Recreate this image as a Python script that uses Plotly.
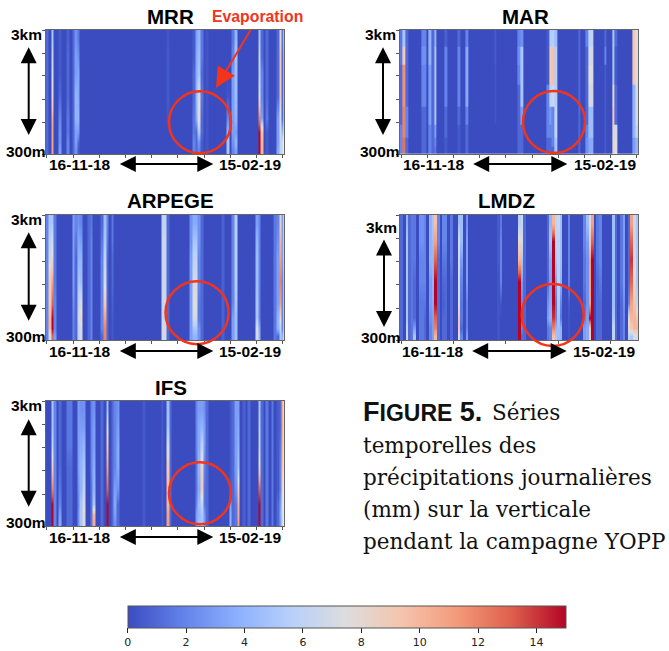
import plotly.graph_objects as go

W, H = 669, 651
N_DAYS = 91
HEIGHTS_M = [323, 372, 449, 589, 884, 1328, 1865, 2570]  # bottom to top
Y_TICKS = [300, 540, 830, 1280, 1950, 3000]
COOLWARM = [[0, "#3b4cc0"], [.125, "#6282ea"], [.25, "#8db0fe"], [.375, "#b8d0f9"],
            [.5, "#dddddd"], [.625, "#f5c4ad"], [.75, "#f49a7b"], [.875, "#de604d"], [1, "#b40426"]]
DATE_LABELS = ["16-11-18", "15-02-19"]
CAPTION = ["Séries", "temporelles des", "précipitations journalières",
           "(mm) sur la verticale", "pendant la campagne YOPP"]

# each profile is listed from top (3km) to bottom (300m), in mm
MRR_days = [0, 2, 5, 8, 10, 11, 12, 46, 56, 57, 58, 59, 61, 69, 71, 72, 81, 82, 84, 88, 89, 90]
MRR_vals = [[1, 1, 1, 1, 1, 1, 1, 1], [5, 6, 7, 8, 10.5, 11, 11, 11], [.5, .5, .5, 1, 2, 2.5, 2.5, 3],
            [.7, 1, 1, 1, 1.5, 1.5, 2, 2], [1, 1, 1, 1, 1, 1, 1, 1], [2.5, 3, 3, 4, 4, 3, 3, 2.5],
            [1.5, 2.5, 3.5, 3.5, 4, 3, 1, .5], [.3, .5, .5, .5, .3, 0, 0, 0], [.5, .5, 1, 1, 1.5, 1.5, 2, 2],
            [3, 3.5, 3.5, 4, 3.5, 1, 1, 1], [4, 4.5, 5, 7, 8, 5, 2.5, 2], [1.5, 1.5, 1, 1.5, 1, 1, .5, .5],
            [.3, .3, .3, .3, .3, .3, .3, .3], [0, 0, 0, .3, 2, 4, 5, 5], [1.5, 2, 3, 3, 3, 3, 2.5, 2],
            [4, 5, 4.5, 4.5, 4, 3, 4, 3], [5, 6, 6, 7.5, 12, 15, 15, 15], [1, 1, 2, 2, 3, 9.5, 10, 10],
            [1, 1, 1, 1, 1.5, .5, .5, .5], [1, 1, 1, 1, 3, 3, 3, 3.5], [8, 9, 9, 9, 7, 7, 6, 6],
            [1.5, 1, 1, 1, 1, 4, 7, 7]]

MAR_days = [0, 1, 2, 8, 9, 11, 12, 13, 17, 22, 25, 36, 45, 46, 56, 57, 58, 59, 68, 71, 72, 73, 78, 81, 82, 89, 90]
MAR_vals = [[1.5, 1.5, 1, 1, 1, 2, 2, 2], [5, 9, 11.5, 11.5, 12, 12, 12.5, 12.5], [1, 1, 1, 1, 2, 2, 1, 1],
            [2, 2.5, 2, 2, 1, 1, 1, 1], [2, 2.5, 2, 2, 1, 1, 1, 1], [4, 4, 3, 3, 3, 2, 2, 2],
            [1, 1, 1, 1, 1, 1, 1, 1], [4, 5, 5, 5, 5, 3, 2, 1.5], [.7, 2, 2, 2, 1, 1, .5, .5],
            [1, 2, 2, 2, 1, .5, .5, .5], [2, 3.5, 3.5, 3.5, 2, 1, 1, 1], [.5, .5, .3, .3, .3, 0, 0, 0],
            [2, 2.5, 2, 1, 1, 1, 1, 1], [2.5, 5, 5, 5, 3, 1, 1, 1], [.5, .5, .5, 2, 2, 2, 1, 1],
            [5.5, 9, 9, 6, 3, 2, 1, 1], [5.5, 9.5, 9.5, 6.5, 2, 2, 2, 1], [4.5, 5.5, 5.5, 5.5, 6, 6, 5, 5],
            [1, 1, 1, 1, 1, 1, 1, 1], [2, 1, 1, 1, 1, 2, 2.5, 2.5], [6, 7, 7.5, 7, 4.5, 4.5, 3.5, 3.5],
            [6, 7, 7.5, 7, 4.5, 4.5, 3.5, 3.5], [1, 2, .5, .5, .5, .5, .5, .5], [5, 5, 5, 8, 9, 8, 8, 8],
            [1, .5, .5, 1, 1, 7, 7.5, 7.5], [9, 9, 9, 4, 4, 4, 3, 3], [7.5, 7.5, 7.5, 7, 7, 6, 4, 4]]

ARPEGE_days = [0, 1, 2, 3, 10, 11, 12, 13, 16, 17, 21, 22, 23, 25, 44, 45, 46, 55, 56, 57, 58, 59, 67, 71, 72, 80, 81, 87, 88, 89, 90]
ARPEGE_vals = [[2, 2, 2, 2, 2, 2, 2, 2], [5, 6, 7, 9, 9, 10, 10, 7], [5, 7, 8, 11, 13, 15, 15, 13],
               [1.5, 1.5, 1.5, 1.5, 2, 2, 2, 3], [3, 3, 3, 3, 2.5, 2, 2, 2], [2, 1.5, 1, 1, 1, 1, 1, 1],
               [2.5, 3.5, 4, 5, 6, 7, 6, 6], [2, 3, 4, 4.5, 7, 8, 7, 7], [1, 1, 1, 1, 1, 1, 1, 1],
               [1.5, 2, 2, 2, 2, 2, 2, 2], [1, 1.5, 2, 2, 2, 2, 2, 1], [4.5, 5, 6, 7, 9, 11, 12, 12],
               [2, 1.5, 1, 1, 1, 1, 1, 1], [1.5, 1.5, 1, 1, .7, .5, .5, .5], [6, 6.5, 6.5, 6.5, 6.5, 6.5, 7, 7],
               [6, 6.5, 6.5, 6.5, 6.5, 6.5, 7, 7], [1, 1, 1, 1, 1, 1, 1, 1], [2.5, 2.5, 3, 3, 3, 3, 3, 3],
               [3.5, 5, 6, 7, 7.5, 7, 5, 4], [3.5, 5, 6, 7, 7.5, 7, 5, 4], [2.5, 2.5, 2, 2, 1.5, 1.5, 2.5, 2.5],
               [1, 1, 1, 1, 1, 1, 1, 1], [.7, .7, .7, .7, .7, .7, .7, .7], [2, 2, 2, 2, 2, 3, 3, 3],
               [5.5, 5.5, 5.5, 5.5, 5, 4.5, 4.5, 4.5], [3, 4, 4.5, 4.5, 5, 5, 7, 7], [2, 2, 2, 2, 2, 2, 3.5, 4],
               [1.5, 1.5, 1.5, 1.5, 1.5, 1.5, 1.5, 1.5], [2, 2.5, 3, 3, 3, 4, 4, 1], [8.5, 10, 11, 12, 11, 8, 6, 5],
               [3, 3, 3, 2, 2, 2, 2, 4]]

LMDZ_days = [0, 2, 3, 4, 5, 7, 8, 9, 11, 12, 13, 14, 16, 17, 19, 22, 23, 25, 37, 38, 45, 46, 47, 56, 57, 58, 59, 60, 61, 64, 70, 71, 72, 73, 75, 76, 81, 82, 84, 85, 87, 88, 89, 90]
LMDZ_vals = [[1, 1, 1, 1, 1, 1, 1, 1], [4, 5, 5, 5, 5, 5, 6, 6.5], [1, 1, 1, 1, 1, 1, 1, 1], [1.5, 1.5, 1.5, 1.5, 1.5, 1.5, 1.5, 1.5],
             [1.5, 1.5, 1.5, 1, 1, 1, 3, 5], [2.5, 2.5, 2, 2, 1.5, 1.5, 1.5, 1.5], [2.5, 2.5, 2, 2, 1.5, 1.5, 1.5, 1.5],
             [2, 2, 2, 2, 1.5, 1, 1, 1], [4, 4, 4, 3, 3, 2.5, 2, 2], [5, 4.5, 4, 4, 3.5, 3, 3, 3],
             [9.5, 11, 13, 15, 15, 13, 12, 10], [2, 2, 1, 1, 1, 1, 1, 1], [2, 2, 1.5, 1, .7, 1, 1, 1],
             [2, 2, 1.5, 1, 1, 1, 1, 1], [1.5, 1.5, 1.5, 1, 1, 1, 1, 1], [4.5, 7, 7, 7, 7.5, 9.5, 9, 7.5],
             [4.5, 4.5, 3, 2, 1.5, 1.5, 1, 2], [2.5, 3, 3, 3, 2, 2, 2, 3], [.5, .5, .5, .3, .3, .3, .3, .3],
             [1.5, 2, 2, 2, .3, 0, 0, 0], [5.5, 8, 10, 15, 15, 15, 15, 15], [6.5, 7, 5, 3, 2, 2, 2, 1],
             [1, 1, 1, 1, 1, 1, 1, 1], [1, 1, 1, 1, 2.5, 3, 1.5, 1.5], [4, 5, 3.5, 3, 3.5, 4, 2, 2],
             [10, 15, 15, 15, 15, 14, 12, 9.5], [6, 6, 5, 3, 1.5, 2, 4, 5], [6.5, 6, 6, 6, 5.5, 5, 4.5, 4.5],
             [4.5, 4.5, 4.5, 4, 2, 1.5, 4, 4], [2, 2, 2, 2, .5, .3, .3, .3], [2, 2, 1.5, 1.5, 1, 2, 3, 3],
             [4.5, 3, 2.5, 2.5, 2.5, 3, 3.5, 3.5], [8, 9, 11, 11, 11, 15, 9, 9], [11, 13, 15, 15, 15, 15, 15, 15],
             [1.5, 1.5, 1.5, 1, 1, 1, 1, 1], [2, 2, 2, 1.5, 1, 1, 1, 1], [4.5, 4.5, 4.5, 4.5, 4.5, 5, 6, 6],
             [1, 1, 1, 1, 1, 1, 1, 1], [1.5, 1.5, 1.5, 1.5, 1, 1, 1, 1], [3, 3, 3, 3, 2.5, 2, 2, 2],
             [1, 1, 1, 1, 2, 7, 8, 6], [11, 13, 14, 13, 11, 10, 9, 5], [6.5, 6.5, 7, 8, 9.5, 10, 10, 7],
             [5, 5, 5, 5, 6, 9.5, 10, 7]]

IFS_days = [2, 3, 5, 8, 9, 12, 13, 14, 17, 18, 21, 23, 25, 26, 27, 37, 44, 46, 47, 57, 58, 59, 60, 61, 70, 71, 72, 73, 75, 77, 81, 82, 84, 86, 88, 89, 90]
IFS_vals = [[5, 5, 6, 9, 12, 15, 15, 15], [2, 2, 2, 2, 2, 2, 2, 2], [1, 1, 1, 1, 1.5, 2, 3, 3.5],
            [1.5, 1.5, 1.5, 1, 1, 1, 1, 1], [1.5, 1.5, 1.5, 1, 1, 1, 1, 1], [3, 3, 3, 3, 2.5, 2, 2.5, 2.5],
            [2.5, 3, 3.5, 4, 4, 5, 5, 5], [2.5, 3, 4, 5, 6, 7, 8, 7.5], [2, 2, 2, 2, 1.5, 1.5, 1.5, 1.5],
            [2.5, 3, 3, 3.5, 4, 5, 10, 10.5], [1, 1, 1, 1, 1, 1, 1, 1], [4.5, 7, 9, 11, 13, 15, 15, 15],
            [1, 1, 1, 1, 1, 1, 1, 1], [2, 2, 2, 2, 3, 3.5, 3, 2.5], [2.5, 3, 3.5, 3.5, 2.5, 1, 1, 1],
            [.5, .5, .5, .5, .5, .5, .5, .5], [.5, .5, .5, .5, .5, .5, .5, .5], [4.5, 5, 7, 9, 10, 10, 11, 11],
            [1, 1, 1, 1, 1, 1, 1, 1], [2, 2, 2, 1.5, 1.5, 2, 3, 3], [3, 3.5, 3.5, 4, 3.5, 4.5, 4, 4.5],
            [3, 4, 6, 8.5, 9, 6, 5, 5], [2.5, 3, 3, 2, 1.5, 1.5, 3, 3], [1, 1, 1, 1, 1, 1, 1, 1],
            [.5, .5, .5, .5, .5, 3, 4, 4], [1, 1, 1, 1, 1, 1, 1, 1], [3, 3, 3, 3, 2.5, 1.5, 1.5, 1.5],
            [3, 3.5, 4, 5, 9, 10, 10.5, 11], [.7, .7, .7, .7, .7, .7, .7, .7], [1, 1, 1, 1, 1, 1, 1, 1],
            [5, 5.5, 6, 8, 13, 15, 15, 15], [1, 1, 1, 1, 1, 1, 1, 1], [1.5, 1.5, 1.5, 1.5, 1.5, 1.5, 1.5, 1.5],
            [1.5, 1.5, 1.5, 1.5, 1.5, 1.5, 1.5, 1.5], [.5, .5, .5, .5, .5, 1, 1, 1], [1, 1, 1.5, 2, 2, 3, 3.5, 3],
            [10.5, 10.5, 10, 9.5, 8, 7.5, 7, 7]]

PANELS = [
    dict(name="MRR", days=MRR_days, vals=MRR_vals, smooth="best", box=(45.5, 284, 30, 154), step=10,
         title=(170.7, 16), varrow=(28.7, 45.7, 135), top=(44, 34), bot=(48, 151), row=164,
         circle=(200, 122.3, 31), labels=(80, 250), harrow=(118.3, 213.3)),
    dict(name="MAR", days=MAR_days, vals=MAR_vals, smooth=False, box=(400, 638, 30, 154), step=10,
         title=(525, 16), varrow=(383, 45.7, 135), top=(398, 34), bot=(402, 151), row=164,
         circle=(554, 122, 31), labels=(434.3, 605), harrow=(471.7, 567.3)),
    dict(name="ARPEGE", days=ARPEGE_days, vals=ARPEGE_vals, smooth="best", box=(45.5, 284, 215, 340), step=10,
         title=(170.7, 200.7), varrow=(28.7, 230.7, 320.7), top=(44, 219), bot=(48, 336.7), row=351,
         circle=(197, 312.7, 31.5), labels=(80, 250), harrow=(118.3, 213.3)),
    dict(name="LMDZ", days=LMDZ_days, vals=LMDZ_vals, smooth="best", box=(400, 638, 215, 340), step=20,
         title=(506, 200.7), varrow=(384, 238, 327), top=(399, 227.7), bot=(402.7, 337), row=351,
         circle=(552.7, 315, 31), labels=(433.3, 604), harrow=(470.7, 566.7)),
    dict(name="IFS", days=IFS_days, vals=IFS_vals, smooth="best", box=(45.5, 284, 401, 526), step=10,
         title=(170.7, 387.3), varrow=(28.7, 417.7, 506.7), top=(44, 405.7), bot=(48, 522.7), row=537,
         circle=(200, 493.3, 31), labels=(80, 250), harrow=(118.3, 213.3)),
]

RED = "#f2341a"
SANS = "Liberation Sans"
SERIF = "DejaVu Serif"

# every day column is held over two samples so interpolation keeps the peak of one-day stripes
SAMPLE_X = [d + off for d in range(N_DAYS) for off in (-.38, .38)]


def fx(p):
    return p / W


def fy(p):
    return 1 - p / H


def build_z(days, vals):
    rows = []
    for level in range(len(HEIGHTS_M)):
        row = [0.0] * N_DAYS
        for d, profile in zip(days, vals):
            row[d] = profile[len(HEIGHTS_M) - 1 - level]
        rows.append([v for v in row for _ in (0, 1)])
    return rows


def text(x, y, s, size, anchor="center", color="#000000", family=SANS, bold=True):
    return dict(xref="paper", yref="paper", x=fx(x), y=fy(y), xanchor=anchor, yanchor="middle",
                text=f"<b>{s}</b>" if bold else s, showarrow=False,
                font=dict(family=family, size=size, color=color))


def arrow(x0, y0, x1, y1, color="#000000", width=2, both=True, size=1.6):
    return dict(xref="paper", yref="paper", x=fx(x1), y=fy(y1), axref="pixel", ayref="pixel",
                ax=x0 - x1, ay=y0 - y1, text="", showarrow=True, arrowhead=2, startarrowhead=2,
                arrowside="end+start" if both else "end", arrowsize=size, startarrowsize=size,
                arrowwidth=width, arrowcolor=color, standoff=0, startstandoff=0)


fig = go.Figure()
annotations, shapes = [], []
layout = {}
for i, p in enumerate(PANELS, start=1):
    suffix = "" if i == 1 else str(i)
    x0, x1, y0, y1 = p["box"]
    fig.add_trace(go.Heatmap(x=SAMPLE_X, y=HEIGHTS_M, z=build_z(p["days"], p["vals"]), coloraxis="coloraxis",
                             zsmooth=p["smooth"], xaxis=f"x{suffix}", yaxis=f"y{suffix}", showscale=i == 1))
    layout[f"xaxis{suffix}"] = dict(domain=[fx(x0), fx(x1)], range=[-.5, 90.5], anchor=f"y{suffix}",
                                    tickvals=list(range(0, 91, p["step"])), showticklabels=False, ticks="outside",
                                    ticklen=3, tickwidth=.8, tickcolor="#555555", showline=True, mirror=True,
                                    linecolor="#666666", linewidth=.8, showgrid=False, zeroline=False)
    layout[f"yaxis{suffix}"] = dict(domain=[fy(y1), fy(y0)], type="log", range=[2.47712, 3.47712], anchor=f"x{suffix}",
                                    tickvals=Y_TICKS, showticklabels=False, ticks="outside", ticklen=3, tickwidth=.8,
                                    tickcolor="#555555", showline=True, mirror=True, linecolor="#666666",
                                    linewidth=.8, showgrid=False, zeroline=False)
    annotations.append(text(*p["title"], p["name"], 20.5))
    annotations.append(text(*p["top"], "3km", 15.5, "right"))
    annotations.append(text(*p["bot"], "300m", 15.5, "right"))
    annotations.append(text(p["labels"][0], p["row"], DATE_LABELS[0], 15.5))
    annotations.append(text(p["labels"][1], p["row"], DATE_LABELS[1], 15.5))
    vx, vy0, vy1 = p["varrow"]
    annotations.append(arrow(vx, vy0, vx, vy1))
    annotations.append(arrow(p["harrow"][0], p["row"], p["harrow"][1], p["row"]))
    cx, cy, r = p["circle"]
    shapes.append(dict(type="circle", xref="paper", yref="paper", x0=fx(cx - r), x1=fx(cx + r), y0=fy(cy + r),
                       y1=fy(cy - r), line=dict(color=RED, width=2.5)))

annotations.append(text(257, 17, "Evaporation", 15.8, color=RED))
annotations.append(arrow(251.7, 28.3, 216, 87.7, color=RED, width=2, both=False, size=2))

caption_y = [412, 445, 477, 509, 541]
annotations.append(text(361, caption_y[0], "F<span style=\"font-size:23px\">IGURE</span> 5.", 27, "left", "#111111"))
annotations.append(text(490, caption_y[0], CAPTION[0], 21.5, "left", "#111111", SERIF, False))
for yy, line in zip(caption_y[1:], CAPTION[1:]):
    annotations.append(text(361, yy, line, 21.5, "left", "#111111", SERIF, False))

fig.update_layout(
    width=W, height=H, autosize=False, margin=dict(l=0, r=0, t=0, b=0), paper_bgcolor="white", plot_bgcolor="white",
    annotations=annotations, shapes=shapes,
    coloraxis=dict(cmin=0, cmax=15, colorscale=COOLWARM,
                   colorbar=dict(orientation="h", x=fx(346.7), xanchor="center", y=fy(606), yanchor="top",
                                 lenmode="pixels", len=438, thicknessmode="pixels", thickness=22, xpad=0, ypad=0,
                                 tickvals=list(range(0, 15, 2)), ticks="outside", ticklen=5, tickwidth=1,
                                 tickcolor="#222222", outlinecolor="#555555", outlinewidth=1,
                                 tickfont=dict(family="DejaVu Sans", size=11, color="#222222"))),
    **layout,
)
fig.write_html("out.html", post_script="document.body.style.margin='0';document.body.style.overflow='hidden';",
               config=dict(displayModeBar=False))
